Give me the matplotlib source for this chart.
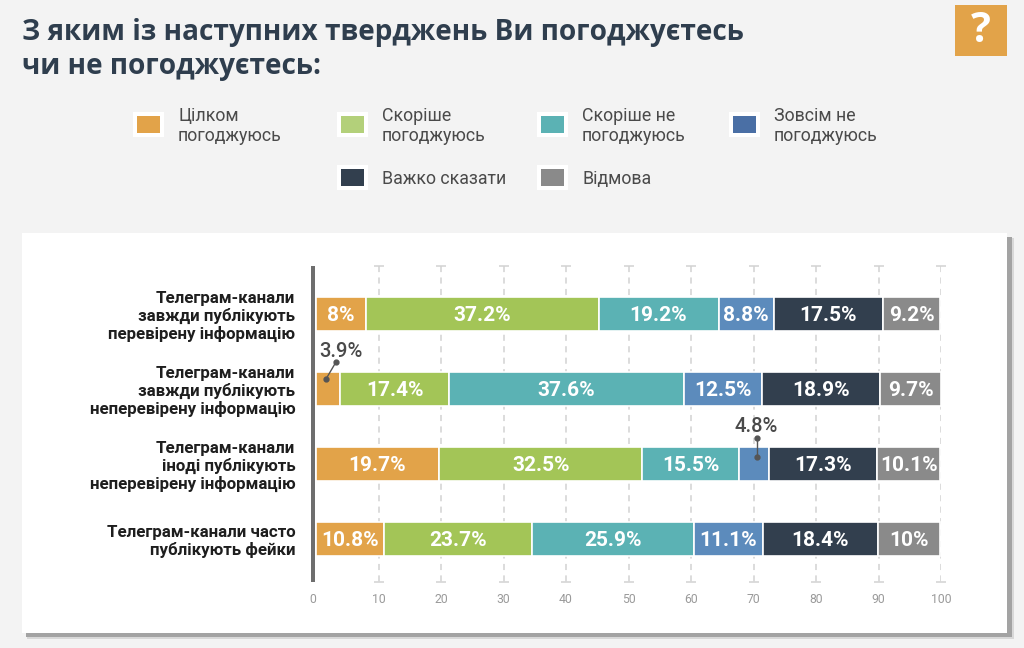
import matplotlib
matplotlib.use("Agg")
import matplotlib.pyplot as plt
from matplotlib.patches import Rectangle
from matplotlib.transforms import ScaledTranslation

title_lines = ["З яким із наступних тверджень Ви погоджуєтесь", "чи не погоджуєтесь:"]
categories = ["Телеграм-канали\nзавжди публікують\nперевірену інформацію",
              "Телеграм-канали\nзавжди публікують\nнеперевірену інформацію",
              "Телеграм-канали\nіноді публікують\nнеперевірену інформацію",
              "Телеграм-канали часто\nпублікують фейки"]
series_names = ["Цілком\nпогоджуюсь", "Скоріше\nпогоджуюсь", "Скоріше не\nпогоджуюсь",
                "Зовсім не\nпогоджуюсь", "Важко сказати", "Відмова"]
fully_agree = [8, 3.9, 19.7, 10.8]
rather_agree = [37.2, 17.4, 32.5, 23.7]
rather_disagree = [19.2, 37.6, 15.5, 25.9]
fully_disagree = [8.8, 12.5, 4.8, 11.1]
hard_to_say = [17.5, 18.9, 17.3, 18.4]
refused = [9.2, 9.7, 10.1, 10]
series = [fully_agree, rather_agree, rather_disagree, fully_disagree, hard_to_say, refused]
colors = ["#E2A349", "#A3C557", "#5BB2B4", "#5C8BBC", "#323F4E", "#8A8A8A"]
legend_colors = ["#E2A349", "#B3D07A", "#5BB2B4", "#4A6FA5", "#323F4E", "#8A8A8A"]
ticks = list(range(0, 101, 10))

W, H = 1024, 648
plt.rcParams["font.family"] = ["Roboto", "DejaVu Sans"]
fig = plt.figure(figsize=(W / 100, H / 100), dpi=100, facecolor="#F3F3F3")

bg = fig.add_axes([0, 0, 1, 1])
bg.set_xlim(0, W)
bg.set_ylim(H, 0)
bg.axis("off")

# card and shadow
bg.add_patch(Rectangle((27, 238), 987, 401, fc="#A8A8A8", ec="none", alpha=0.35))
bg.add_patch(Rectangle((26, 237), 986, 400, fc="#A3A3A3", ec="none"))
bg.add_patch(Rectangle((22, 233), 985, 400, fc="white", ec="none"))

# question icon
bg.add_patch(Rectangle((955, 5), 52, 51, fc="#E2A349", ec="none"))
bg.text(981, 31, "?", color="white", fontsize=30, fontweight="bold",
        family="Open Sans", ha="center", va="center")

# title
for txt, y in zip(title_lines, [32.5, 66.5]):
    bg.text(22, y, txt, color="#2F3E4E", fontsize=20.2, fontweight="bold",
            family="Open Sans", ha="left", va="center")

# legend
legend_pos = [(148, 124), (352, 124), (552, 124), (744, 124), (352, 177), (552, 177)]
for name, col, (cx, cy) in zip(series_names, legend_colors, legend_pos):
    bg.add_patch(Rectangle((cx - 15.5, cy - 12.5), 31, 25, fc="white", ec="none"))
    bg.add_patch(Rectangle((cx - 11.5, cy - 8.5), 23, 17, fc=col, ec="none"))
    bg.text(cx + 30, cy + 2.2, name, color="#4A4A4A", fontsize=12.8, ha="left",
            va="center", linespacing=1.12)

# plot area
left, right, top, bottom = 316, 941, 266, 582
ax = fig.add_axes([left / W, 1 - bottom / H, (right - left) / W, (bottom - top) / H])
ax.patch.set_alpha(0)
ax.set_xlim(0, 100)
ax.set_ylim(3 + 43 / 75, -48 / 75)
for s in ax.spines.values():
    s.set_visible(False)

y_lo, y_hi = ax.get_ylim()
for t in ticks[1:]:
    ax.vlines(t, y_hi, y_lo, color="#D2D2D2", lw=1.1, ls=(0, (4, 3.5)), zorder=1)
    ax.plot([t, t], [y_hi, y_lo], ls="none", marker="_", ms=6.5, mew=1.1,
            color="#D2D2D2", zorder=1, clip_on=False)

ys = list(range(len(categories)))
lefts = [0.0] * len(ys)
for vals, col in zip(series, colors):
    ax.barh(ys, vals, left=lefts, height=0.46, color=col, edgecolor="white", lw=1.2, zorder=2)
    for y, v, l in zip(ys, vals, lefts):
        if v >= 8:
            ax.text(l + v / 2, y + 0.025, f"{v:g}%", color="white", fontsize=15, fontweight="bold",
                    ha="center", va="center", zorder=3)
    lefts = [a + b for a, b in zip(lefts, vals)]

# small segments: outside labels with leader lines
leader_x = [(1.6, 3.2), (70.6, 70.6)]
leader_y = [(1 - 0.133, 1 - 0.36), (2 - 0.093, 2 - 0.35)]
callout_vals = [fully_agree[1], fully_disagree[2]]
label_x = [4.0, 70.4]
label_y = [1 - 0.50, 2 - 0.50]
for lx, ly, tx, ty, v in zip(leader_x, leader_y, label_x, label_y, callout_vals):
    ax.plot(lx, ly, color="#555555", lw=1, marker="o", ms=3.5, zorder=5)
    ax.text(tx, ty, f"{v:g}%", ha="center", va="center", fontsize=14.6, color="#4A4A4A",
            fontweight="medium", zorder=5)

ax.set_xticks(ticks)
ax.set_xticklabels([str(t) for t in ticks], fontsize=8.8, color="#9A9A9A")
ax.tick_params(axis="x", length=0, pad=8)
first = ax.get_xticklabels()[0]
first.set_transform(first.get_transform() + ScaledTranslation(-3 / 100, 0, fig.dpi_scale_trans))
ax.set_yticks(ys)
ax.set_yticklabels(categories, fontsize=12.2, fontweight="bold", color="#1E1E1E",
                   ma="right", linespacing=1.16)
ax.tick_params(axis="y", length=0, pad=15)

# vertical axis bar
bg.add_patch(Rectangle((311, 266), 4, 316, fc="#6E6E6E", ec="none"))

fig.savefig("out.png", dpi=100, facecolor=fig.get_facecolor())
